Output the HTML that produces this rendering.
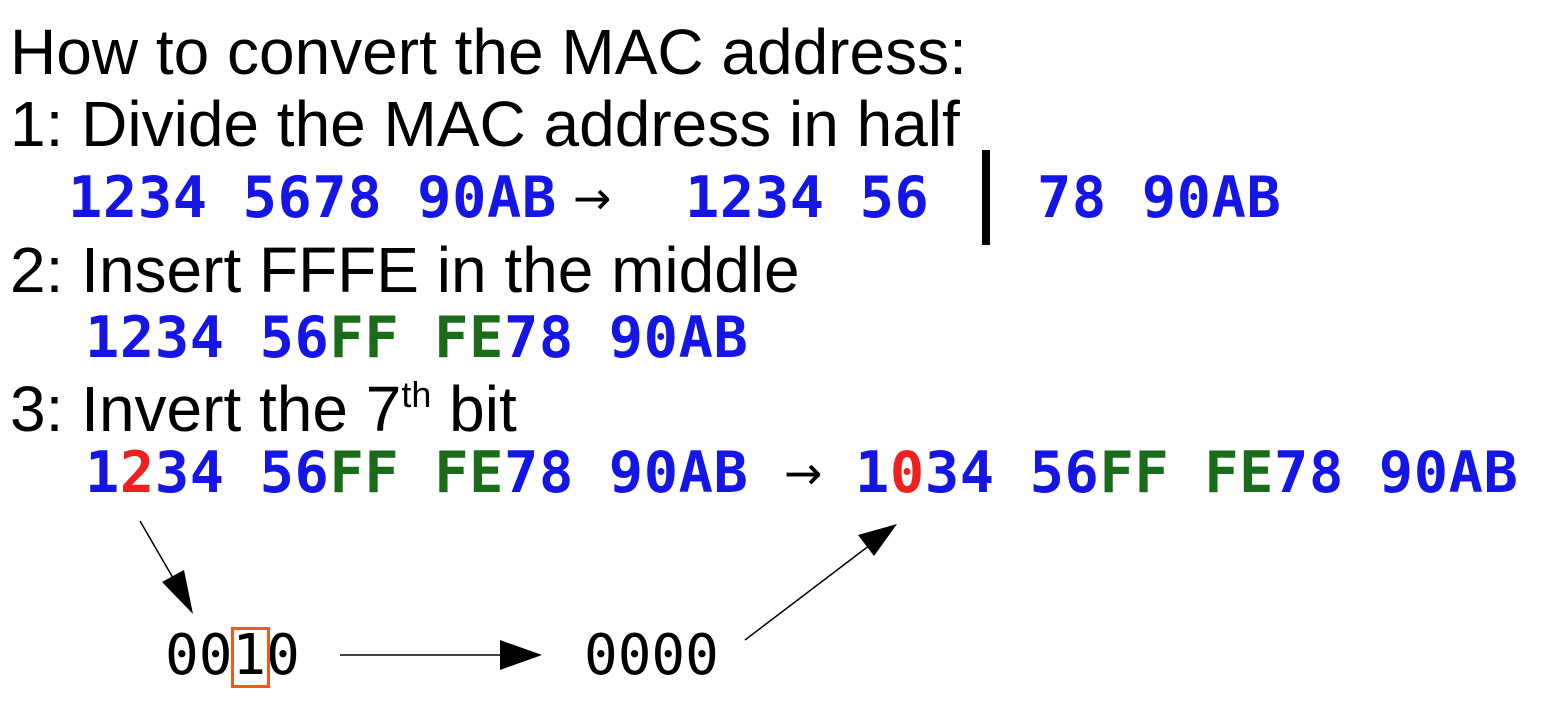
<!DOCTYPE html>
<html><head><style>
body{margin:0;width:1550px;height:726px;background:#fff;position:relative;overflow:hidden}
.t{position:absolute;font-family:"Liberation Sans",sans-serif;font-size:64px;color:#000;white-space:pre;line-height:1}
.m{position:absolute;font-family:"DejaVu Sans Mono",monospace;font-weight:bold;font-size:57px;color:#1515e6;white-space:pre;line-height:1;letter-spacing:0.6px}
.g{color:#1a6b1a}.r{color:#ee2020}
.b{position:absolute;font-family:"DejaVu Sans Mono",monospace;font-size:56px;color:#000;white-space:pre;line-height:1;letter-spacing:0px}
.ar{position:absolute;font-family:"DejaVu Sans",sans-serif;font-size:46px;color:#000;line-height:1}
</style></head><body>
<div class="t" style="left:10px;top:20px">How to convert the MAC address:</div>
<div class="t" style="left:10px;top:92px">1: Divide the MAC address in half</div>
<div class="m" style="left:68px;top:170px">1234 5678 90AB</div>
<div class="ar" style="left:573px;top:175px">→</div>
<div class="m" style="left:685px;top:170px">1234 56</div>
<div style="position:absolute;left:982px;top:150px;width:8px;height:95px;background:#000"></div>
<div class="m" style="left:1037px;top:170px">78 90AB</div>
<div class="t" style="left:10px;top:238px">2: Insert FFFE in the middle</div>
<div class="m" style="left:85px;top:310px">1234 56<span class="g">FF FE</span>78 90AB</div>
<div class="t" style="left:10px;top:377px">3: Invert the 7<sup style="font-size:36px;vertical-align:24px">th</sup> bit</div>
<div class="m" style="left:85px;top:445px">1<span class="r">2</span>34 56<span class="g">FF FE</span>78 90AB</div>
<div class="ar" style="left:784px;top:450px">→</div>
<div class="m" style="left:855px;top:445px">1<span class="r">0</span>34 56<span class="g">FF FE</span>78 90AB</div>
<div class="b" style="left:165px;top:628px">0010</div>
<div style="position:absolute;left:231px;top:627px;width:33px;height:55px;border:3px solid #f05a1a"></div>
<div class="b" style="left:584px;top:628px">0000</div>
<svg width="1550" height="726" style="position:absolute;left:0;top:0">
<line x1="140" y1="521" x2="180" y2="590" stroke="#000" stroke-width="1.5"/>
<polygon points="193,614 162,582 184,570" fill="#000"/>
<line x1="340" y1="655" x2="500" y2="655" stroke="#000" stroke-width="1.5"/>
<polygon points="542,655 500,640 500,670" fill="#000"/>
<line x1="745" y1="640" x2="870" y2="545" stroke="#000" stroke-width="1.5"/>
<polygon points="897,524 858,535 874,556" fill="#000"/>
</svg>
</body></html>
